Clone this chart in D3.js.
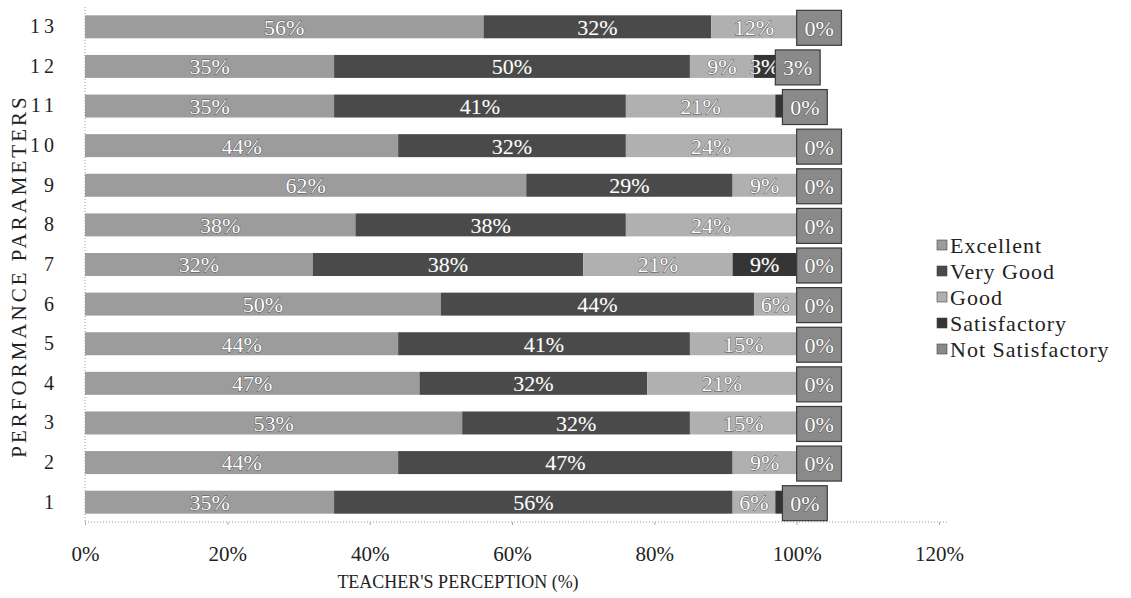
<!DOCTYPE html>
<html>
<head>
<meta charset="utf-8">
<script src="https://cdn.jsdelivr.net/npm/d3@7"></script>
<style>
  html, body { margin: 0; padding: 0; background: #fff; }
  svg { display: block; }
  svg text { font-family: "Liberation Serif", "Times New Roman", serif; }
</style>
</head>
<body>
<svg id="chart" width="1131" height="598"></svg>
<script>
// ---- data ----
const params = ["1","2","3","4","5","6","7","8","9","10","11","12","13"];
const seriesNames = ["Excellent","Very Good","Good","Satisfactory","Not Satisfactory"];
const excellent       = [35,44,53,47,44,50,32,38,62,44,35,35,56];
const veryGood        = [56,47,32,32,41,44,38,38,29,32,41,50,32];
const good            = [6, 9, 15,21,15,6, 21,24,9, 24,21,9, 12];
const satisfactory    = [1, 0, 0, 0, 0, 0, 9, 0, 0, 0, 1, 3, 0];
const notSatisfactory = [0, 0, 0, 0, 0, 0, 0, 0, 0, 0, 0, 3, 0];
const xTicks = [0,20,40,60,80,100,120];
const colors = ["#9c9c9c","#4a4a4a","#b0b0b0","#353535","#8a8a8a"];

const seriesValues = [excellent, veryGood, good, satisfactory, notSatisfactory];
const rows = params.map((p, i) => {
  const r = { param: p };
  seriesNames.forEach((s, k) => r[s] = seriesValues[k][i]);
  return r;
});

const FONT = "'Liberation Serif', 'Times New Roman', serif";
const svg = d3.select("#chart");
const margin = { top: 7, bottom: 522 };

const x = d3.scaleLinear().domain([0, 120]).range([85, 939]);
const y = d3.scaleBand().domain(params.slice().reverse())
  .range([margin.top, margin.bottom]).paddingInner(0.42).paddingOuter(0.21);

const stacked = d3.stack().keys(seriesNames.slice(0, 4))(rows);

// axis lines (dotted)
svg.append("line").attr("x1", x(0)).attr("x2", x(0))
  .attr("y1", margin.top).attr("y2", margin.bottom)
  .attr("stroke", "#9a9a9a").attr("stroke-dasharray", "1,2");
svg.append("line").attr("x1", x(0)).attr("x2", x(120) + 8)
  .attr("y1", margin.bottom).attr("y2", margin.bottom)
  .attr("stroke", "#9a9a9a").attr("stroke-dasharray", "1,2");

// x axis
const xAxis = svg.append("g").attr("transform", `translate(0,${margin.bottom})`)
  .call(d3.axisBottom(x).tickValues(xTicks).tickFormat(d => d + "%").tickSize(3).tickPadding(21));
xAxis.attr("font-family", null).attr("font-size", null);
xAxis.select(".domain").remove();
xAxis.selectAll(".tick line").attr("stroke", "#aaa");
xAxis.selectAll("text").style("font-family", FONT).style("font-size", "21px").attr("fill", "#222");

// y axis
const yAxis = svg.append("g").attr("transform", `translate(${x(0) - 27},0)`)
  .call(d3.axisLeft(y).tickSize(0).tickPadding(0));
yAxis.attr("font-family", null).attr("font-size", null);
yAxis.select(".domain").remove();
yAxis.selectAll("text").style("font-family", FONT).style("font-size", "20px").attr("fill", "#222")
  .attr("letter-spacing", 4);

// bars
const barG = svg.append("g");
stacked.forEach((layer, k) => {
  barG.selectAll(null).data(layer).enter().append("rect")
    .attr("x", d => x(d[0]))
    .attr("width", d => x(d[1]) - x(d[0]))
    .attr("y", d => y(d.data.param))
    .attr("height", y.bandwidth())
    .attr("fill", colors[k]);
});

// segment labels
const labelG = svg.append("g");
stacked.forEach((layer, k) => {
  labelG.selectAll(null).data(layer.filter(d => d[1] - d[0] >= 3)).enter().append("text")
    .attr("x", d => (x(d[0]) + x(d[1])) / 2)
    .attr("y", d => y(d.data.param) + y.bandwidth() / 2)
    .attr("dy", "0.36em")
    .attr("text-anchor", "middle")
    .style("font-family", FONT).style("font-size", "22px")
    .attr("fill", "#fff")
    .attr("stroke", "#555").attr("stroke-width", 1).attr("paint-order", "stroke")
    .text(d => (d[1] - d[0]) + "%");
});

// Not Satisfactory: value shown as a filled label box at the end of each bar
const boxW = x(6.3) - x(0);
const nsG = svg.append("g");
const nsData = rows.map((r, i) => ({ param: r.param, start: stacked[3][i][1], v: r["Not Satisfactory"] }));
nsG.selectAll("rect").data(nsData).enter().append("rect")
  .attr("x", d => x(d.start))
  .attr("width", d => Math.max(boxW, x(d.v) - x(0)))
  .attr("y", d => y(d.param) - 5)
  .attr("height", y.bandwidth() + 12)
  .attr("fill", colors[4]).attr("stroke", "#3a3a3a").attr("stroke-width", 1.2);
nsG.selectAll("text").data(nsData).enter().append("text")
  .attr("x", d => x(d.start) + Math.max(boxW, x(d.v) - x(0)) / 2)
  .attr("y", d => y(d.param) + y.bandwidth() / 2 + 1)
  .attr("dy", "0.36em").attr("text-anchor", "middle")
  .style("font-family", FONT).style("font-size", "22px").attr("fill", "#fff")
  .attr("stroke", "#555").attr("stroke-width", 1).attr("paint-order", "stroke")
  .text(d => d.v + "%");

// axis titles
svg.append("text").attr("x", 458).attr("y", 588).attr("text-anchor", "middle")
  .style("font-family", FONT).style("font-size", "18px").attr("fill", "#222")
  .text("TEACHER'S PERCEPTION (%)");
svg.append("text").attr("transform", "translate(26,276) rotate(-90)")
  .attr("text-anchor", "middle").style("font-family", FONT).style("font-size", "21px")
  .attr("letter-spacing", 3).attr("fill", "#222").text("PERFORMANCE PARAMETERS");

// legend
const legend = svg.append("g").attr("transform", "translate(937,245)");
seriesNames.forEach((s, k) => {
  const g = legend.append("g").attr("transform", `translate(0,${k * 26})`);
  g.append("rect").attr("x", 0).attr("y", -5).attr("width", 10).attr("height", 10)
    .attr("fill", colors[k]).attr("stroke", "#444").attr("stroke-width", 0.6);
  g.append("text").attr("x", 13).attr("dy", "0.35em")
    .style("font-family", FONT).style("font-size", "22px").attr("letter-spacing", 1)
    .attr("fill", "#222").text(s);
});
</script>
</body>
</html>
